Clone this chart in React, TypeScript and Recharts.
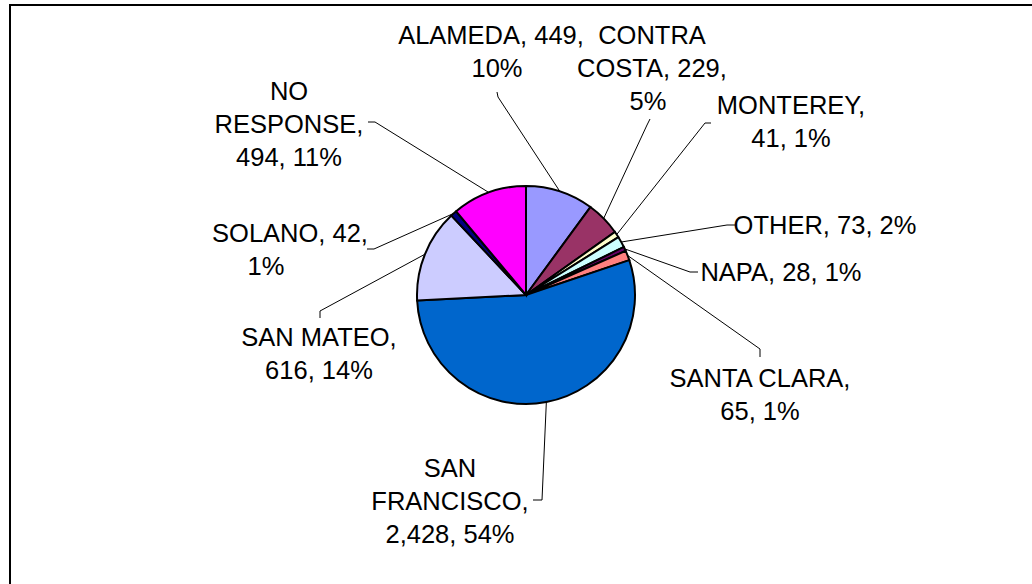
import React from 'react'
import { PieChart, Pie, Cell } from 'recharts'

// county responses, clockwise from 12 o'clock
const COUNTIES = [
  'ALAMEDA',
  'CONTRA COSTA',
  'MONTEREY',
  'OTHER',
  'NAPA',
  'SANTA CLARA',
  'SAN FRANCISCO',
  'SAN MATEO',
  'SOLANO',
  'NO RESPONSE',
]
const RESPONSES = [449, 229, 41, 73, 28, 65, 2428, 616, 42, 494]

const COLORS = ['#9999FF', '#993366', '#FFFFCC', '#CCFFFF', '#660066', '#FF8080', '#0066CC', '#CCCCFF', '#000080', '#FF00FF']

const FONT = '"Liberation Sans", Arial, sans-serif'
const FONT_SIZE = 25.5
const LINE_H = 33

// hand placed labels, like the original: block center x, first line center y,
// words per line, optional per-line x shift, and the leader path towards the slice
const LABEL_LAYOUT: { x: number; y: number; wrap: number[]; dx?: number[]; leader: number[][] }[] = [
  { x: 491, y: 35, wrap: [2, 1], dx: [0, 6], leader: [[497, 92], [498, 97]] },
  { x: 652, y: 35, wrap: [1, 2, 1], dx: [0, 0, -4], leader: [[650, 119], [647, 125]] },
  { x: 791, y: 105, wrap: [1, 2], leader: [[711, 123], [705, 123]] },
  { x: 825, y: 225, wrap: [3], leader: [[735, 225], [727, 225]] },
  { x: 781, y: 272, wrap: [3], leader: [[698, 272], [690, 272]] },
  { x: 760, y: 378, wrap: [2, 2], leader: [[760, 357], [760, 349]] },
  { x: 450, y: 468, wrap: [1, 1, 2], leader: [[533, 500], [542, 500]] },
  { x: 319, y: 337, wrap: [2, 2], leader: [[320, 318], [320, 311]] },
  { x: 290, y: 233, wrap: [2, 1], dx: [0, -24], leader: [[367, 249], [374, 249]] },
  { x: 289, y: 91, wrap: [1, 1, 2], leader: [[368, 122], [375, 122]] },
]

const TOTAL = RESPONSES.reduce((a, b) => a + b, 0)
const data = COUNTIES.map((name, i) => ({ name, value: RESPONSES[i] }))

const RAD = Math.PI / 180

function renderLabel(props: any) {
  const { cx, cy, midAngle, outerRadius, index } = props
  const layout = LABEL_LAYOUT[index]
  const value = RESPONSES[index]
  const text = `${COUNTIES[index]}, ${value.toLocaleString('en-US')}, ${Math.round((value / TOTAL) * 100)}%`
  const words = text.split(' ')
  const lines: string[] = []
  let w = 0
  layout.wrap.forEach((n) => {
    lines.push(words.slice(w, w + n).join(' '))
    w += n
  })
  const ex = cx + outerRadius * Math.cos(-midAngle * RAD)
  const ey = cy + outerRadius * Math.sin(-midAngle * RAD)
  const pts = [...layout.leader, [ex, ey]].map((p) => p.join(',')).join(' ')
  return (
    <g key={`label-${index}`}>
      <polyline points={pts} fill="none" stroke="#000" strokeWidth={1} />
      {lines.map((line, i) => (
        <text
          key={i}
          x={layout.x + (layout.dx ? layout.dx[i] : 0)}
          y={layout.y + i * LINE_H}
          textAnchor="middle"
          dominantBaseline="central"
          fontFamily={FONT}
          fontSize={FONT_SIZE}
          fill="#000"
        >
          {line}
        </text>
      ))}
    </g>
  )
}

export default function App() {
  return (
    <div style={{ position: 'fixed', left: 0, top: 0, width: 1032, height: 584, overflow: 'hidden', background: '#fff' }}>
      <div
        style={{
          position: 'absolute',
          left: 9,
          top: 4,
          width: 1100,
          height: 700,
          borderLeft: '2px solid #000',
          borderTop: '2px solid #000',
        }}
      />
      <div style={{ position: 'absolute', left: 0, top: 0 }}>
        <PieChart width={1032} height={584} margin={{ top: 0, right: 0, bottom: 0, left: 0 }}>
          <Pie
            data={data}
            dataKey="value"
            nameKey="name"
            cx={526}
            cy={295}
            outerRadius={109}
            startAngle={90}
            endAngle={-270}
            stroke="#000"
            strokeWidth={2}
            label={renderLabel}
            labelLine={false}
            isAnimationActive={false}
          >
            {data.map((entry, index) => (
              <Cell key={`cell-${index}`} fill={COLORS[index]} />
            ))}
          </Pie>
        </PieChart>
      </div>
    </div>
  )
}
